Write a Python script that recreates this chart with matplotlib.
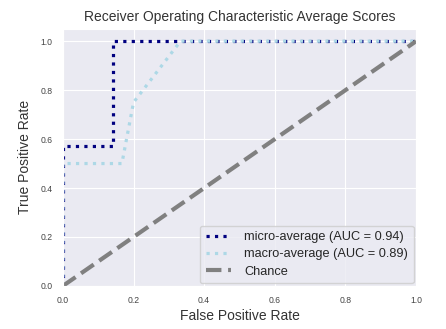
"""
ROC average scores chart (micro / macro average vs. chance).
"""

import matplotlib
matplotlib.use("Agg")
import matplotlib.pyplot as plt
import seaborn as sns

# =============================================================================
# Data
# =============================================================================

micro_fpr = [0.0, 0.0, 0.143, 0.143, 1.0]
micro_tpr = [0.0, 0.571, 0.571, 1.0, 1.0]
micro_auc = 0.94

macro_fpr = [0.0, 0.0, 0.167, 0.2, 0.333, 1.0]
macro_tpr = [0.0, 0.5, 0.5, 0.75, 1.0, 1.0]
macro_auc = 0.89

chance_x = [0.0, 1.0]
chance_y = [0.0, 1.0]

ticks = [0.0, 0.2, 0.4, 0.6, 0.8, 1.0]

# =============================================================================
# Style
# =============================================================================

sns.set_style("darkgrid")
plt.rcParams['font.family'] = ['Liberation Sans', 'DejaVu Sans']

fig = plt.figure(figsize=(4.46, 3.29), dpi=100)
ax = fig.add_axes([0.141, 0.131, 0.792, 0.781])

ax.plot(micro_fpr, micro_tpr, color='navy', linestyle=':', linewidth=2.3,
        label=f'micro-average (AUC = {micro_auc:.2f})')
ax.plot(macro_fpr, macro_tpr, color='#add8e6', linestyle=':', linewidth=2.3,
        label=f'macro-average (AUC = {macro_auc:.2f})')
ax.plot(chance_x, chance_y, color='gray', linestyle='--', linewidth=3,
        label='Chance')

ax.set_xlim(0.0, 1.0)
ax.set_ylim(0.0, 1.05)
ax.set_xticks(ticks)
ax.set_yticks(ticks)
ax.tick_params(labelsize=6.2, colors='#444444', pad=4)

ax.set_xlabel('False Positive Rate', fontsize=10, color='#333333', labelpad=3)
ax.set_ylabel('True Positive Rate', fontsize=10, color='#333333', labelpad=6)
ax.set_title('Receiver Operating Characteristic Average Scores',
             fontsize=10, color='#333333', pad=6)

ax.legend(loc='lower right', fontsize=9.2, handlelength=2.0,
          handletextpad=1.0, borderpad=0.45, labelspacing=0.4,
          borderaxespad=0.2)

fig.savefig('out.png', dpi=100, facecolor='white')
